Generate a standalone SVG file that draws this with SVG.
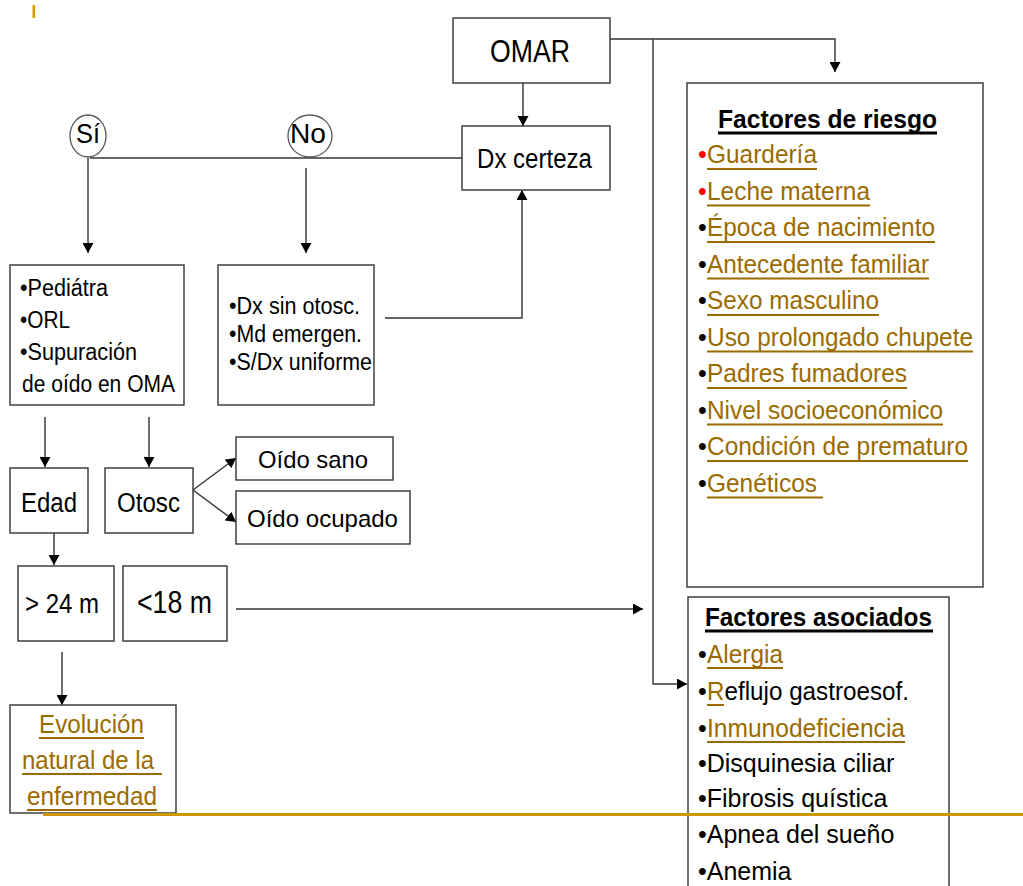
<svg xmlns="http://www.w3.org/2000/svg" width="1023" height="886" viewBox="0 0 1023 886">
<defs>
<style>
.box{fill:#fff;stroke:#333;stroke-width:1.4}
.ell{fill:#fff;stroke:#555;stroke-width:1.3}
.t{font-family:"Liberation Sans",Arial,sans-serif;fill:#000}
.lk{font-family:"Liberation Sans",Arial,sans-serif;fill:#9B6B00}
.b{font-weight:bold}
.ul{stroke:#9B6B00;stroke-width:2}
.ulb{stroke:#000;stroke-width:3}
.c{fill:none;stroke:#333;stroke-width:1.4}
.red{fill:#f00}
</style>
<marker id="ah" viewBox="0 0 10 11" refX="10" refY="5.5" markerWidth="10" markerHeight="11" markerUnits="userSpaceOnUse" orient="auto">
<path d="M0,0 L10,5.5 L0,11 z" fill="#000"/>
</marker>
</defs>
<rect width="1023" height="886" fill="#fff"/>
<rect x="32.5" y="5" width="2.6" height="13" fill="#D4A000"/>

<g id="connectors">
<path class="c" d="M610,39 H835 V72" marker-end="url(#ah)"/>
<path class="c" d="M653,39 V684 H687" marker-end="url(#ah)"/>
<path class="c" d="M523,83 V126" marker-end="url(#ah)"/>
<path class="c" d="M90,158 H462"/>
<path class="c" d="M88,158 V253" marker-end="url(#ah)"/>
<path class="c" d="M306,168 V253" marker-end="url(#ah)"/>
<path class="c" d="M385,318 H522 V190" marker-end="url(#ah)"/>
<path class="c" d="M45,417 V467" marker-end="url(#ah)"/>
<path class="c" d="M149,417 V467" marker-end="url(#ah)"/>
<path class="c" d="M193,490 L236,458" marker-end="url(#ah)"/>
<path class="c" d="M193,490 L236,522" marker-end="url(#ah)"/>
<path class="c" d="M54,533 V565" marker-end="url(#ah)"/>
<path class="c" d="M236,609 H643" marker-end="url(#ah)"/>
<path class="c" d="M62,652 V705" marker-end="url(#ah)"/>
</g>

<g id="omar">
<rect class="box" x="453" y="18" width="157" height="65"/>
<text class="t" x="490" y="62" font-size="32" textLength="80" lengthAdjust="spacingAndGlyphs">OMAR</text>
</g>
<g id="dx-certeza">
<rect class="box" x="462" y="126" width="148" height="64"/>
<text class="t" x="477" y="168" font-size="27" textLength="115" lengthAdjust="spacingAndGlyphs">Dx certeza</text>
</g>
<g id="si">
<ellipse class="ell" cx="88" cy="136" rx="18" ry="21"/>
<text class="t" x="76" y="143" font-size="27" textLength="24" lengthAdjust="spacingAndGlyphs">Sí</text>
</g>
<g id="no">
<ellipse class="ell" cx="310" cy="136" rx="22" ry="21"/>
<text class="t" x="290" y="143" font-size="27" textLength="36" lengthAdjust="spacingAndGlyphs">No</text>
</g>
<g id="box-si">
<rect class="box" x="10" y="265" width="174" height="140"/>
<text class="t" x="20" y="296" font-size="23" textLength="88" lengthAdjust="spacingAndGlyphs">•Pediátra</text>
<text class="t" x="20" y="328" font-size="23" textLength="50" lengthAdjust="spacingAndGlyphs">•ORL</text>
<text class="t" x="20" y="360" font-size="23" textLength="117" lengthAdjust="spacingAndGlyphs">•Supuración</text>
<text class="t" x="22" y="392" font-size="23" textLength="153" lengthAdjust="spacingAndGlyphs">de oído en OMA</text>
</g>
<g id="box-no">
<rect class="box" x="218" y="265" width="156" height="140"/>
<text class="t" x="229" y="314" font-size="23" textLength="131" lengthAdjust="spacingAndGlyphs">•Dx sin otosc.</text>
<text class="t" x="229" y="342" font-size="23" textLength="133" lengthAdjust="spacingAndGlyphs">•Md emergen.</text>
<text class="t" x="229" y="370" font-size="23" textLength="143" lengthAdjust="spacingAndGlyphs">•S/Dx uniforme</text>
</g>
<g id="edad">
<rect class="box" x="10" y="468" width="78" height="65"/>
<text class="t" x="21" y="512" font-size="27" textLength="56" lengthAdjust="spacingAndGlyphs">Edad</text>
</g>
<g id="otosc">
<rect class="box" x="105" y="468" width="88" height="65"/>
<text class="t" x="117" y="512" font-size="27" textLength="63" lengthAdjust="spacingAndGlyphs">Otosc</text>
</g>
<g id="oido-sano">
<rect class="box" x="236" y="437" width="157" height="43"/>
<text class="t" x="258" y="468" font-size="24" textLength="110" lengthAdjust="spacingAndGlyphs">Oído sano</text>
</g>
<g id="oido-ocupado">
<rect class="box" x="236" y="491" width="174" height="53"/>
<text class="t" x="247" y="527" font-size="24" textLength="151" lengthAdjust="spacingAndGlyphs">Oído ocupado</text>
</g>
<g id="mayor24">
<rect class="box" x="18" y="566" width="96" height="75"/>
<text class="t" x="25" y="613" font-size="27" textLength="74" lengthAdjust="spacingAndGlyphs">&gt; 24 m</text>
</g>
<g id="menor18">
<rect class="box" x="123" y="566" width="104" height="75"/>
<text class="t" x="137" y="613" font-size="31" textLength="75" lengthAdjust="spacingAndGlyphs">&lt;18 m</text>
</g>
<g id="evolucion">
<rect class="box" x="10" y="705" width="166" height="108"/>
<text class="lk" x="39" y="733" font-size="26" textLength="105" lengthAdjust="spacingAndGlyphs">Evolución</text>
<text class="lk" x="22" y="769" font-size="26" textLength="132" lengthAdjust="spacingAndGlyphs">natural de la</text>
<text class="lk" x="27" y="805" font-size="26" textLength="130" lengthAdjust="spacingAndGlyphs">enfermedad</text>
<line class="ul" x1="39" y1="738" x2="144" y2="738"/>
<line class="ul" x1="22" y1="774" x2="162" y2="774"/>
<line class="ul" x1="27" y1="810" x2="157" y2="810"/>
</g>

<g id="factores-riesgo">
<rect class="box" x="687" y="83" width="296" height="504"/>
<text class="t b" x="718" y="128" font-size="26" textLength="219" lengthAdjust="spacingAndGlyphs">Factores de riesgo</text>
<line class="ulb" x1="718" y1="133" x2="937" y2="133"/>
<g font-size="25">
<text class="t red" x="698" y="163">•</text>
<text class="lk" x="707" y="163" textLength="110" lengthAdjust="spacingAndGlyphs">Guardería</text>
<line class="ul" x1="707" y1="169" x2="817" y2="169"/>
<text class="t red" x="698" y="199.5">•</text>
<text class="lk" x="707" y="199.5" textLength="163" lengthAdjust="spacingAndGlyphs">Leche materna</text>
<line class="ul" x1="707" y1="205.5" x2="870" y2="205.5"/>
<text class="t" x="698" y="236">•</text>
<text class="lk" x="707" y="236" textLength="228" lengthAdjust="spacingAndGlyphs">Época de nacimiento</text>
<line class="ul" x1="707" y1="242" x2="935" y2="242"/>
<text class="t" x="698" y="272.5">•</text>
<text class="lk" x="707" y="272.5" textLength="222" lengthAdjust="spacingAndGlyphs">Antecedente familiar</text>
<line class="ul" x1="707" y1="278.5" x2="929" y2="278.5"/>
<text class="t" x="698" y="309">•</text>
<text class="lk" x="707" y="309" textLength="172" lengthAdjust="spacingAndGlyphs">Sexo masculino</text>
<line class="ul" x1="707" y1="315" x2="879" y2="315"/>
<text class="t" x="698" y="345.5">•</text>
<text class="lk" x="707" y="345.5" textLength="266" lengthAdjust="spacingAndGlyphs">Uso prolongado chupete</text>
<line class="ul" x1="707" y1="351.5" x2="973" y2="351.5"/>
<text class="t" x="698" y="382">•</text>
<text class="lk" x="707" y="382" textLength="200" lengthAdjust="spacingAndGlyphs">Padres fumadores</text>
<line class="ul" x1="707" y1="388" x2="907" y2="388"/>
<text class="t" x="698" y="418.5">•</text>
<text class="lk" x="707" y="418.5" textLength="236" lengthAdjust="spacingAndGlyphs">Nivel socioeconómico</text>
<line class="ul" x1="707" y1="424.5" x2="943" y2="424.5"/>
<text class="t" x="698" y="455">•</text>
<text class="lk" x="707" y="455" textLength="261" lengthAdjust="spacingAndGlyphs">Condición de prematuro</text>
<line class="ul" x1="707" y1="461" x2="968" y2="461"/>
<text class="t" x="698" y="491.5">•</text>
<text class="lk" x="707" y="491.5" textLength="110" lengthAdjust="spacingAndGlyphs">Genéticos</text>
<line class="ul" x1="707" y1="497.5" x2="823" y2="497.5"/>
</g>
</g>

<g id="factores-asociados">
<rect class="box" x="688" y="597" width="261" height="300"/>
<text class="t b" x="705" y="626" font-size="26" textLength="227" lengthAdjust="spacingAndGlyphs">Factores asociados</text>
<line class="ulb" x1="705" y1="631" x2="933" y2="631"/>
<g font-size="25">
<text class="t" x="698" y="663">•</text>
<text class="lk" x="707" y="663" textLength="76" lengthAdjust="spacingAndGlyphs">Alergia</text>
<line class="ul" x1="707" y1="668" x2="783" y2="668"/>
<text class="t" x="698" y="700">•</text>
<text class="t" x="707" y="700" textLength="202" lengthAdjust="spacingAndGlyphs"><tspan fill="#9B6B00">R</tspan>eflujo gastroesof.</text>
<line class="ul" x1="707" y1="705" x2="724" y2="705"/>
<text class="t" x="698" y="737">•</text>
<text class="lk" x="707" y="737" textLength="198" lengthAdjust="spacingAndGlyphs">Inmunodeficiencia</text>
<line class="ul" x1="707" y1="742" x2="905" y2="742"/>
<text class="t" x="698" y="772">•Disquinesia ciliar</text>
<text class="t" x="698" y="807">•Fibrosis quística</text>
<text class="t" x="698" y="843">•Apnea del sueño</text>
<text class="t" x="698" y="880">•Anemia</text>
</g>
</g>

<line x1="43" y1="814.5" x2="1023" y2="814.5" stroke="#CC9900" stroke-width="3"/>
</svg>
